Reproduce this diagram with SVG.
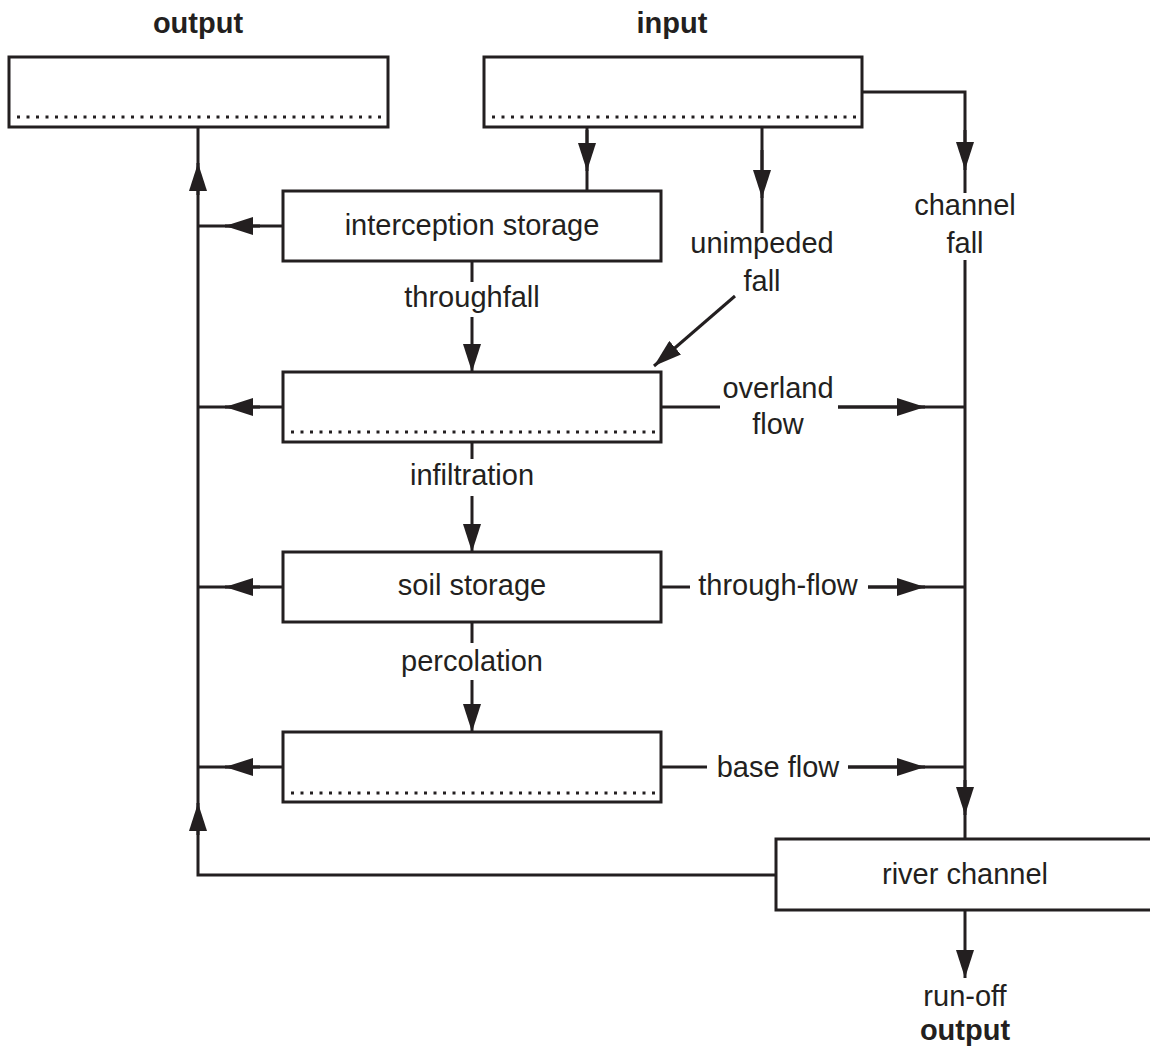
<svg xmlns="http://www.w3.org/2000/svg" width="1150" height="1050" viewBox="0 0 1150 1050">
<defs>
<marker id="arr" markerWidth="28" markerHeight="18" refX="28" refY="9" orient="auto" markerUnits="userSpaceOnUse">
<path d="M0,0 L28,9 L0,18 z" fill="#231f20"/>
</marker>
<style>
.box{fill:#fff;stroke:#231f20;stroke-width:3}
.dot{stroke:#231f20;stroke-width:3;stroke-dasharray:3 6.5;fill:none}
.ln{stroke:#231f20;stroke-width:3;fill:none}
.t{font-family:"Liberation Sans",Arial,sans-serif;font-size:29px;fill:#231f20;text-anchor:middle}
.b{font-weight:bold}
</style>
</defs>
<rect width="1150" height="1050" fill="#fff"/>

<g id="connectors">
<!-- left collector -->
<path class="ln" d="M198,127 V875 H777"/>
<line class="ln" x1="198" y1="195" x2="198" y2="163" marker-end="url(#arr)"/>
<line class="ln" x1="198" y1="835" x2="198" y2="803" marker-end="url(#arr)"/>
<line class="ln" x1="283" y1="226" x2="198" y2="226"/>
<line class="ln" x1="260" y1="226" x2="225" y2="226" marker-end="url(#arr)"/>
<line class="ln" x1="283" y1="407" x2="198" y2="407"/>
<line class="ln" x1="260" y1="407" x2="225" y2="407" marker-end="url(#arr)"/>
<line class="ln" x1="283" y1="587" x2="198" y2="587"/>
<line class="ln" x1="260" y1="587" x2="225" y2="587" marker-end="url(#arr)"/>
<line class="ln" x1="283" y1="767" x2="198" y2="767"/>
<line class="ln" x1="260" y1="767" x2="225" y2="767" marker-end="url(#arr)"/>
<!-- input to interception -->
<line class="ln" x1="587" y1="127" x2="587" y2="191"/>
<line class="ln" x1="587" y1="130" x2="587" y2="171" marker-end="url(#arr)"/>
<!-- unimpeded fall -->
<line class="ln" x1="762" y1="127" x2="762" y2="233"/>
<line class="ln" x1="762" y1="150" x2="762" y2="198" marker-end="url(#arr)"/>
<line class="ln" x1="735" y1="296" x2="654" y2="366" marker-end="url(#arr)"/>
<!-- channel fall -->
<path class="ln" d="M862,92 H965 V193"/>
<line class="ln" x1="965" y1="130" x2="965" y2="170" marker-end="url(#arr)"/>
<line class="ln" x1="965" y1="260" x2="965" y2="839"/>
<line class="ln" x1="965" y1="780" x2="965" y2="815" marker-end="url(#arr)"/>
<!-- vertical flows -->
<line class="ln" x1="472" y1="261" x2="472" y2="282"/>
<line class="ln" x1="472" y1="317" x2="472" y2="372" marker-end="url(#arr)"/>
<line class="ln" x1="472" y1="442" x2="472" y2="459"/>
<line class="ln" x1="472" y1="496" x2="472" y2="552" marker-end="url(#arr)"/>
<line class="ln" x1="472" y1="622" x2="472" y2="643"/>
<line class="ln" x1="472" y1="680" x2="472" y2="732" marker-end="url(#arr)"/>
<!-- lateral flows -->
<line class="ln" x1="661" y1="407" x2="720" y2="407"/>
<line class="ln" x1="838" y1="407" x2="965" y2="407"/>
<line class="ln" x1="838" y1="407" x2="925" y2="407" marker-end="url(#arr)"/>
<line class="ln" x1="661" y1="587" x2="690" y2="587"/>
<line class="ln" x1="868" y1="587" x2="965" y2="587"/>
<line class="ln" x1="868" y1="587" x2="925" y2="587" marker-end="url(#arr)"/>
<line class="ln" x1="661" y1="767" x2="707" y2="767"/>
<line class="ln" x1="848" y1="767" x2="965" y2="767"/>
<line class="ln" x1="848" y1="767" x2="925" y2="767" marker-end="url(#arr)"/>
<!-- run-off -->
<line class="ln" x1="965" y1="910" x2="965" y2="978" marker-end="url(#arr)"/>
</g>

<g id="output-store">
<text class="t b" x="198" y="33">output</text>
<rect class="box" x="9" y="57" width="379" height="70"/>
<line class="dot" x1="17" y1="117" x2="382" y2="117"/>
</g>

<g id="input-store">
<text class="t b" x="672" y="33">input</text>
<rect class="box" x="484" y="57" width="378" height="70"/>
<line class="dot" x1="492" y1="117" x2="858" y2="117"/>
</g>

<g id="interception">
<rect class="box" x="283" y="191" width="378" height="70"/>
<text class="t" x="472" y="235">interception storage</text>
</g>

<g id="surface">
<rect class="box" x="283" y="372" width="378" height="70"/>
<line class="dot" x1="291" y1="432" x2="656" y2="432"/>
</g>

<g id="soil">
<rect class="box" x="283" y="552" width="378" height="70"/>
<text class="t" x="472" y="595">soil storage</text>
</g>

<g id="groundwater">
<rect class="box" x="283" y="732" width="378" height="70"/>
<line class="dot" x1="291" y1="793" x2="656" y2="793"/>
</g>

<g id="river">
<path class="box" d="M1152,839 H776 V910 H1152"/>
<text class="t" x="965" y="884">river channel</text>
</g>

<g id="labels">
<text class="t" x="472" y="307">throughfall</text>
<text class="t" x="472" y="485">infiltration</text>
<text class="t" x="472" y="671">percolation</text>
<text class="t" x="762" y="253">unimpeded</text>
<text class="t" x="762" y="291">fall</text>
<text class="t" x="965" y="215">channel</text>
<text class="t" x="965" y="253">fall</text>
<text class="t" x="778" y="398">overland</text>
<text class="t" x="778" y="434">flow</text>
<text class="t" x="778" y="595">through-flow</text>
<text class="t" x="778" y="777">base flow</text>
<text class="t" x="965" y="1006">run-off</text>
<text class="t b" x="965" y="1040">output</text>
</g>
</svg>
